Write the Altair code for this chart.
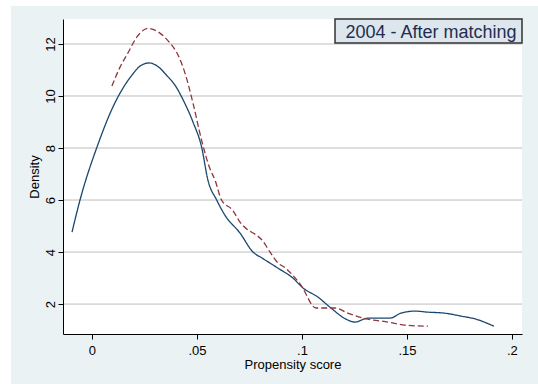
import altair as alt
import pandas as pd

# ---- data ----
BLUE_X = [-0.0095, -0.0057, 0.0029, 0.0100, 0.0195, 0.0229, 0.0272, 0.0316, 0.0355,
          0.0395, 0.0439, 0.0483, 0.0522, 0.0552, 0.0594, 0.0633, 0.0705, 0.0767,
          0.0810, 0.0886, 0.0957, 0.1005, 0.1076, 0.1138, 0.1210,
          0.1252, 0.1314, 0.1362, 0.1419, 0.1471, 0.1538, 0.1600, 0.1681, 0.1757,
          0.1829, 0.1914]
BLUE_Y = [4.77, 6.00, 8.15, 9.58, 10.85, 11.15, 11.27, 11.12, 10.80,
          10.42, 9.77, 8.96, 8.04, 6.77, 6.00, 5.42, 4.73, 4.00,
          3.77, 3.38, 3.00, 2.62, 2.27, 1.85, 1.42,
          1.31, 1.46, 1.46, 1.46, 1.65, 1.73, 1.69, 1.65, 1.54,
          1.42, 1.15]
RED_X = [0.0095, 0.0133, 0.0171, 0.0214, 0.0267, 0.0316, 0.0371, 0.0405, 0.0443,
         0.0481, 0.0522, 0.0562, 0.0586, 0.0617, 0.0671, 0.0705, 0.0743, 0.0776,
         0.0810, 0.0848, 0.0886, 0.0919, 0.0995, 0.1067, 0.1157, 0.1219, 0.1314,
         0.1410, 0.1490, 0.1600]
RED_Y = [10.38, 11.10, 11.65, 12.27, 12.60, 12.46, 12.04, 11.65, 10.88,
         9.73, 8.30, 7.20, 6.77, 6.00, 5.60, 5.15, 4.85, 4.69,
         4.46, 4.00, 3.58, 3.40, 2.73, 1.85, 1.85, 1.65, 1.42,
         1.31, 1.19, 1.15]
SERIES = ["Treated", "Controls"]
SERIES_COLORS = ["#1A476F", "#90353B"]
Y_TICKS = [2, 4, 6, 8, 10, 12]
X_TICKS = [0, 0.05, 0.1, 0.15, 0.2]
X_DOMAIN = [-0.0138, 0.2048]
Y_DOMAIN = [0.85, 12.96]
LEGEND_TEXT = "2004 - After matching"
X_TITLE = "Propensity score"
Y_TITLE = "Density"

W, H = 459, 315
FONT = "Liberation Sans, Arial, sans-serif"
BG = "#EAF2F3"

df = pd.DataFrame({
    "x": BLUE_X + RED_X,
    "y": BLUE_Y + RED_Y,
    "series": [SERIES[0]] * len(BLUE_X) + [SERIES[1]] * len(RED_X),
})
grid_df = pd.DataFrame({"y": Y_TICKS})
one = pd.DataFrame({"k": [0]})

xscale = alt.Scale(domain=X_DOMAIN, nice=False, zero=False)
yscale = alt.Scale(domain=Y_DOMAIN, nice=False, zero=False)

xaxis = alt.Axis(
    values=X_TICKS,
    labelExpr="datum.value == 0 ? '0' : substring(format(datum.value, '~g'), 1)",
    grid=False, domainColor="black", domainWidth=1, tickColor="black", tickSize=5,
    labelPadding=5, labelFont=FONT, labelFontSize=13, labelColor="black",
    labelFlush=False, labelOverlap=False,
    title=X_TITLE, titleFont=FONT, titleFontSize=13, titleFontWeight="normal",
    titleColor="black", titleY=24, titleBaseline="top", zindex=1,
)
yaxis = alt.Axis(
    values=Y_TICKS,
    grid=False, domainColor="black", domainWidth=1, tickColor="black", tickSize=5,
    labelAngle=270, labelAlign="center", labelBaseline="bottom", labelPadding=1,
    labelFont=FONT, labelFontSize=13, labelColor="black",
    labelFlush=False, labelOverlap=False,
    title=Y_TITLE, titleFont=FONT, titleFontSize=13, titleFontWeight="normal",
    titleColor="black", titleAngle=270, titleAlign="center", titleBaseline="bottom",
    titleX=-22, zindex=1,
)

bg = alt.Chart(one).mark_rect(color=BG).encode(
    x=alt.value(-52), x2=alt.value(W + 16), y=alt.value(-13), y2=alt.value(H + 50)
)
plot_bg = alt.Chart(one).mark_rect(color="white").encode(
    x=alt.value(0), x2=alt.value(W), y=alt.value(0), y2=alt.value(H)
)
grid = alt.Chart(grid_df).mark_rule(color="#BDBDBD", strokeWidth=1).encode(
    y=alt.Y("y:Q", scale=yscale, axis=yaxis)
)
lines = alt.Chart(df).mark_line(strokeWidth=1.3, interpolate="monotone").encode(
    x=alt.X("x:Q", scale=xscale, axis=xaxis),
    y=alt.Y("y:Q", scale=yscale, axis=yaxis),
    color=alt.Color("series:N", scale=alt.Scale(domain=SERIES, range=SERIES_COLORS), legend=None),
    strokeDash=alt.StrokeDash("series:N", scale=alt.Scale(domain=SERIES, range=[[1, 0], [6, 3]]), legend=None),
    order=alt.Order("x:Q"),
)
box = alt.Chart(one).mark_rect(fill="#DCE6EC", stroke="#333333", strokeWidth=1.5).encode(
    x=alt.value(272), x2=alt.value(W), y=alt.value(0), y2=alt.value(24)
)
box_text = alt.Chart(one).mark_text(
    text=LEGEND_TEXT, font=FONT, fontSize=18, color="#1F2D50", align="center", baseline="alphabetic"
).encode(x=alt.value(368), y=alt.value(19))

chart = alt.layer(bg, plot_bg, grid, lines, box, box_text).properties(
    width=W, height=H,
    autosize=alt.AutoSizeParams(type="none"),
    padding={"left": 63, "top": 19, "right": 16, "bottom": 50},
    background="white",
).configure_view(stroke=None)

chart.save("out.html", embed_options={"renderer": "svg", "actions": False})
